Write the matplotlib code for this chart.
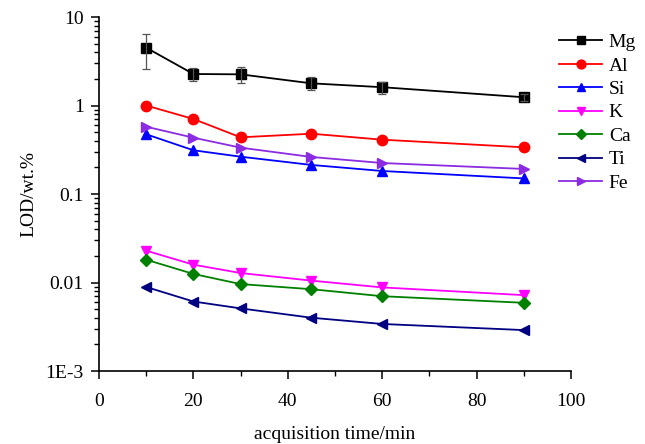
import matplotlib
matplotlib.use("Agg")
import matplotlib.pyplot as plt
from matplotlib.ticker import FixedLocator, FixedFormatter, LogLocator, MultipleLocator, NullFormatter

plt.rcParams["font.family"] = ["Liberation Serif", "DejaVu Serif"]

TIME = [10, 20, 30, 45, 60, 90]

MG = [4.5, 2.27, 2.25, 1.78, 1.61, 1.24]
MG_ERR = [1.9, 0.4, 0.45, 0.3, 0.25, 0.12]
AL = [1.0, 0.704, 0.437, 0.48, 0.411, 0.337]
SI = [0.473, 0.312, 0.264, 0.213, 0.182, 0.150]
K = [0.0229, 0.0159, 0.0128, 0.0105, 0.0088, 0.0072]
CA = [0.0181, 0.0125, 0.0096, 0.0084, 0.0070, 0.0059]
TI = [0.0089, 0.0061, 0.0051, 0.0040, 0.0034, 0.0029]
FE = [0.576, 0.433, 0.334, 0.262, 0.224, 0.192]

SERIES = [
    ("Mg", MG, "black", "s"),
    ("Al", AL, "red", "o"),
    ("Si", SI, "blue", "^"),
    ("K", K, "magenta", "v"),
    ("Ca", CA, "green", "D"),
    ("Ti", TI, "navy", "<"),
    ("Fe", FE, "#8b2be2", ">"),
]

Y_TICKS = [1e-3, 1e-2, 1e-1, 1, 10]
Y_LABELS = ["1E-3", "0.01", "0.1", "1", "10"]

fig = plt.figure(figsize=(6.45, 4.44), dpi=100)
ax = fig.add_axes([0.1535, 0.1644, 0.7318, 0.7973])

for name, values, color, marker in SERIES:
    ms = 6 if marker == "D" else 7.5
    ax.plot(TIME, values, color=color, marker=marker, markersize=ms, linewidth=1.3, label=name)

ax.errorbar(TIME, MG, yerr=MG_ERR, fmt="none", ecolor="#555555", elinewidth=0.9, capsize=3, capthick=0.9)

ax.set_yscale("log")
ax.set_ylim(1e-3, 10)
ax.set_xlim(0, 100)
ax.yaxis.set_major_locator(FixedLocator(Y_TICKS))
ax.yaxis.set_major_formatter(FixedFormatter(Y_LABELS))
ax.yaxis.set_minor_locator(LogLocator(base=10, subs=range(2, 10)))
ax.yaxis.set_minor_formatter(NullFormatter())
ax.xaxis.set_major_locator(MultipleLocator(20))
ax.xaxis.set_minor_locator(MultipleLocator(10))

for side in ["top", "right"]:
    ax.spines[side].set_visible(False)
for side in ["left", "bottom"]:
    ax.spines[side].set_linewidth(1.2)

ax.tick_params(which="major", direction="out", length=6, width=1.1, labelsize=14)
ax.tick_params(which="minor", direction="out", length=3.5, width=1.0)
ax.tick_params(axis="x", which="major", pad=10)
ax.tick_params(axis="y", which="major", pad=5)

ax.set_xlabel("acquisition time/min", fontsize=14, labelpad=11)
ax.set_ylabel("LOD/wt.%", fontsize=14, labelpad=6)

fig.legend(loc="upper left", bbox_to_anchor=(0.855, 0.942), frameon=False, fontsize=14,
           handlelength=2.2, labelspacing=0.3, handletextpad=0.35, borderaxespad=0,
           markerscale=0.85)

fig.savefig("out.png", dpi=100)
